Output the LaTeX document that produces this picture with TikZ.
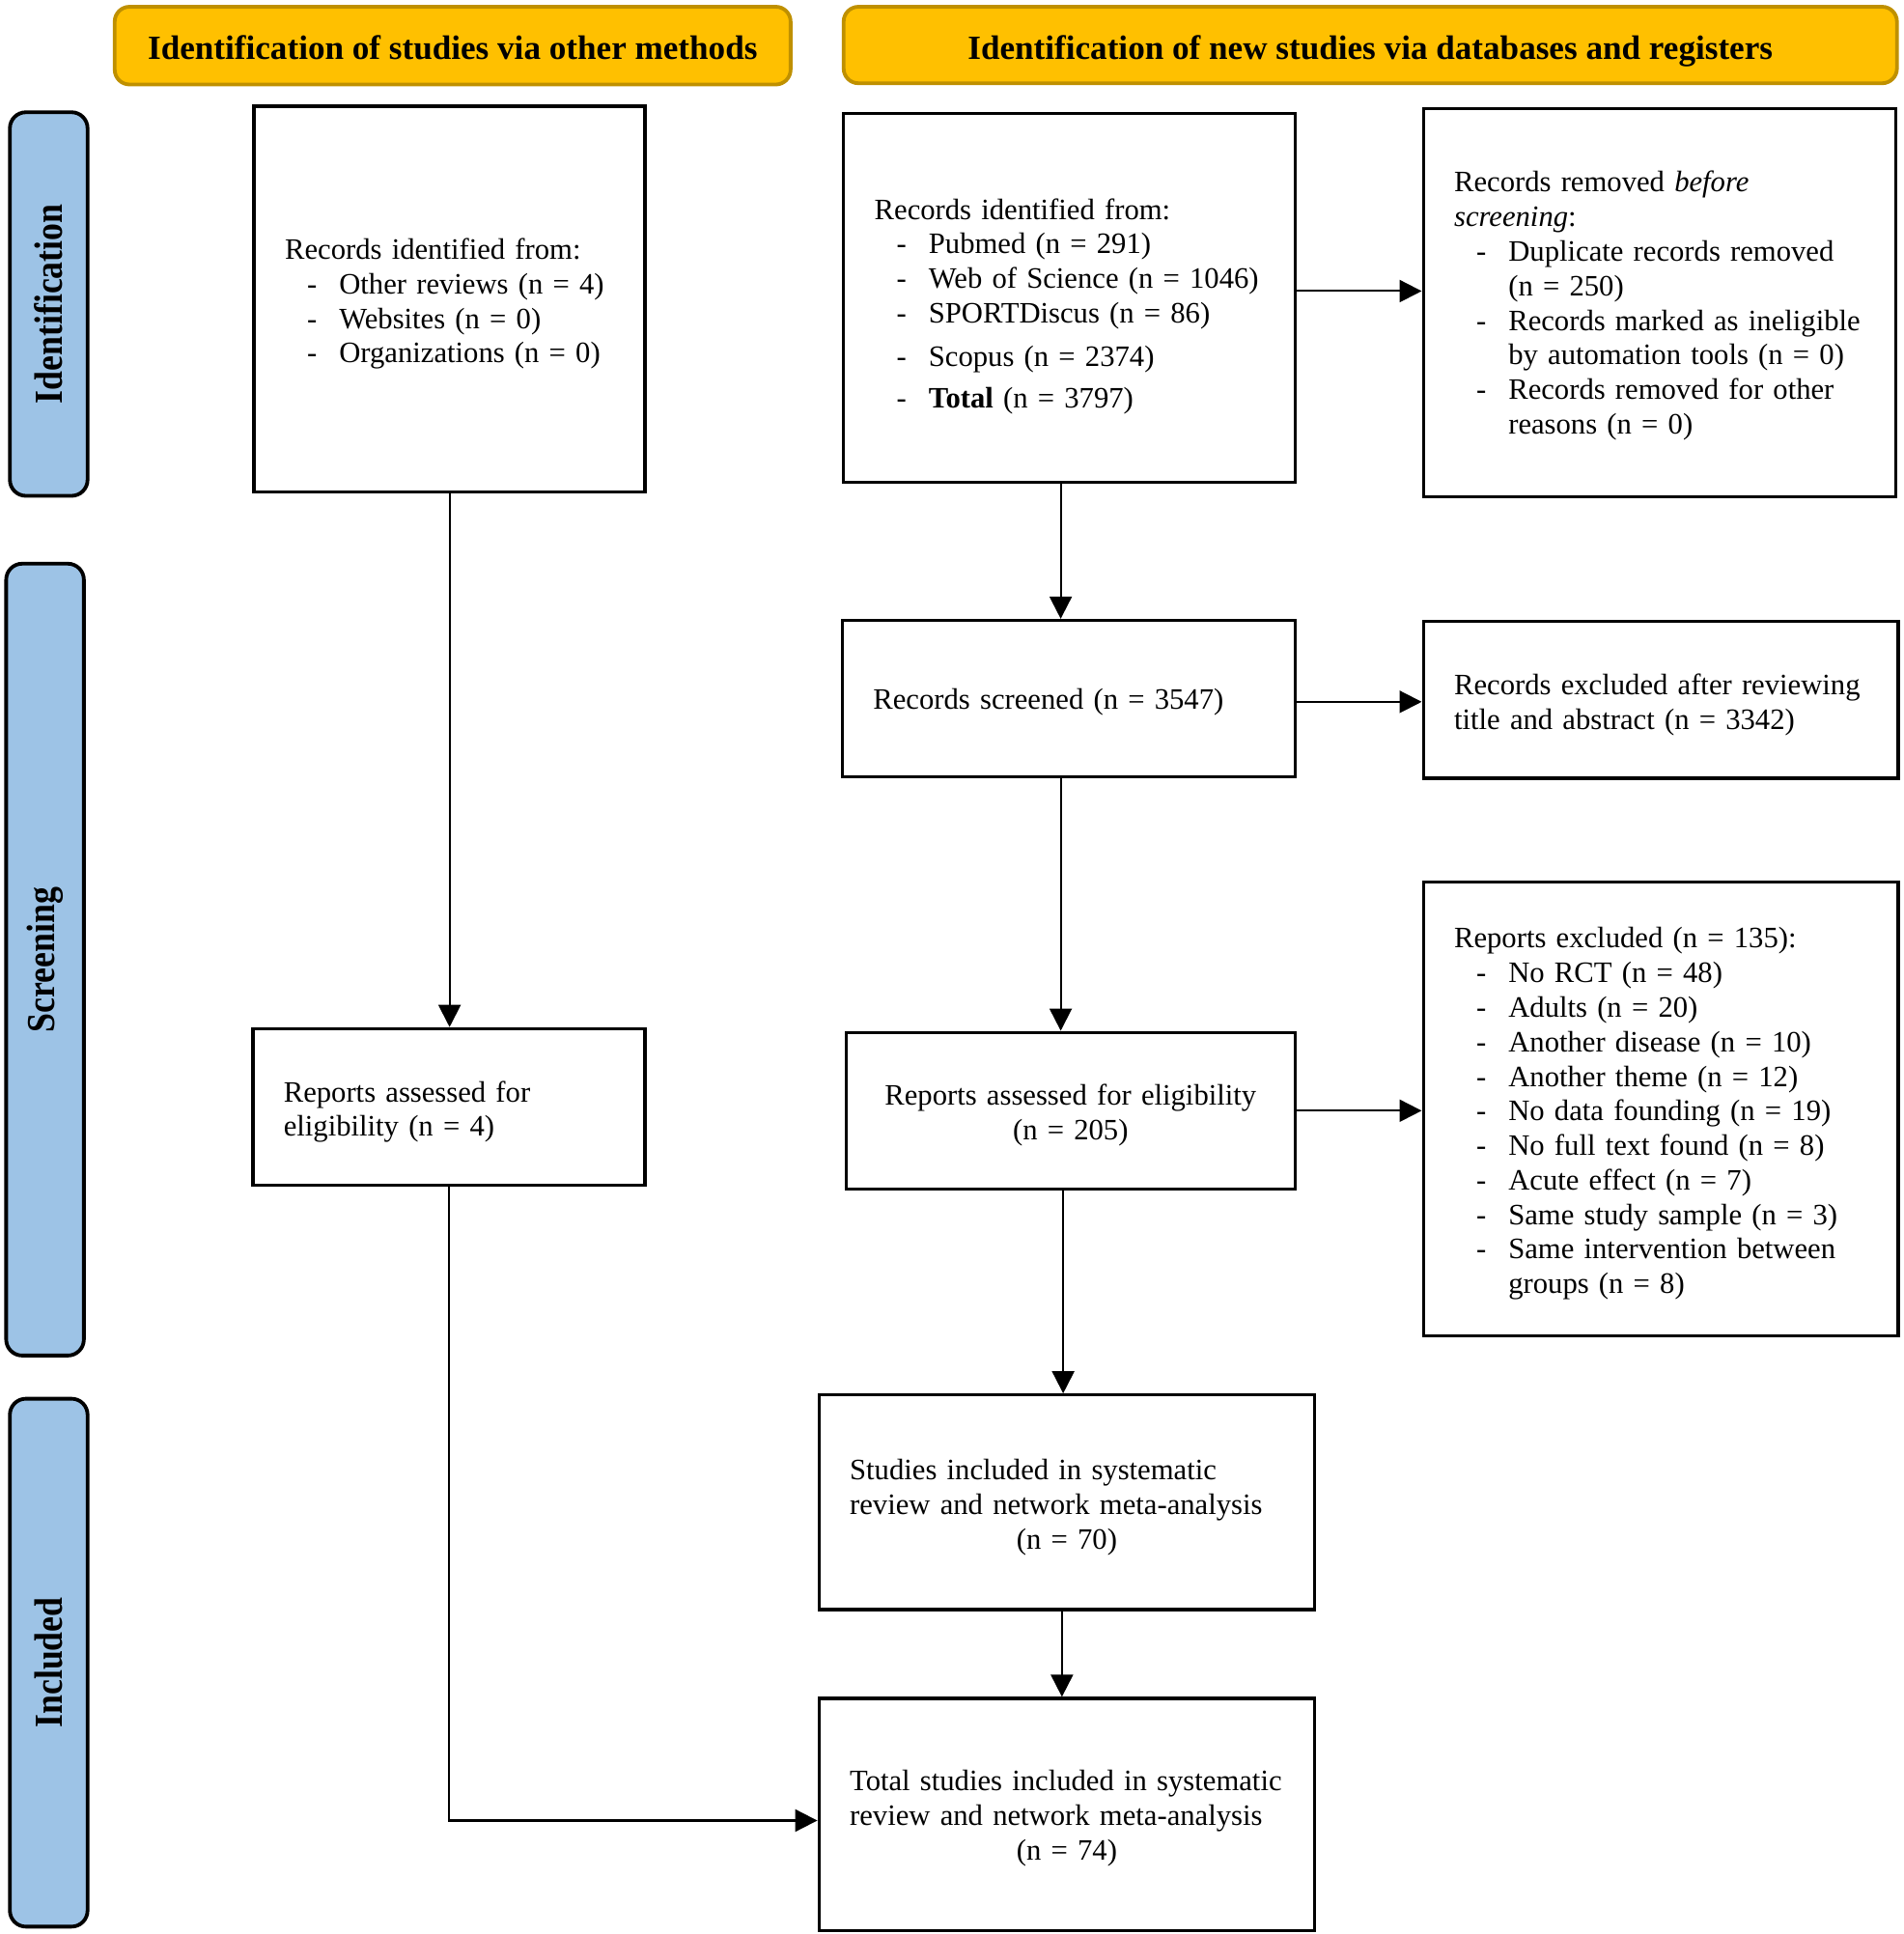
\documentclass[tikz,border=0pt]{standalone}
\usepackage{fontspec}
\setmainfont{Liberation Serif}
\usetikzlibrary{arrows.meta}
\definecolor{amber}{HTML}{FFC000}
\definecolor{amberedge}{HTML}{BF9000}
\definecolor{barblue}{HTML}{9DC3E6}
\newcommand{\itm}[1]{\makebox[22pt]{-}\mbox{#1}}
\newcommand{\cnt}[1]{\hspace*{22pt}\mbox{#1}}
\newcommand{\ctr}[1]{\makebox[\hsize]{#1}}
\newcommand{\tp}[1]{\rule{0pt}{\dimexpr 8.3pt+#1pt\relax}}
\newcommand{\sidetext}[1]{\scalebox{1}[1.15]{#1}}
\begin{document}
\begin{tikzpicture}[x=0.5pt,y=-0.5pt,
  box/.style={draw=black,line width=1.3pt,fill=white,inner xsep=12.5pt,inner ysep=2pt,align=left,
    font=\fontsize{12}{14}\selectfont},
  header/.style={draw=amberedge,fill=amber,line width=1.5pt,rounded corners=6pt,
    text height=12pt,text depth=0.5pt,font=\fontsize{13.75}{16}\selectfont\bfseries},
  sidebar/.style={draw=black,fill=barblue,line width=1.5pt,rounded corners=6.5pt,rotate=90,
    font=\fontsize{14}{16}\selectfont\bfseries},
  conn/.style={line width=0.8pt,-{Triangle[length=9pt,width=9pt]}}]
\useasboundingbox (0,0) rectangle (1543,1568);

% headers
\node[header,minimum width=274pt,minimum height=31.5pt] (hl) at (367,37) {Identification of studies via other methods};
\node[header,minimum width=427pt,minimum height=31pt] (hr) at (1111,36.5) {Identification of new studies via databases and registers};

% side bars
\node[sidebar,minimum width=155.5pt,minimum height=31.5pt] (sid) at (39.5,246.5) {\sidetext{Identification}};
\node[sidebar,minimum width=321pt,minimum height=31.5pt] (sscr) at (36.5,778) {\sidetext{Screening}};
\node[sidebar,minimum width=214pt,minimum height=31.5pt] (sinc) at (39.5,1348) {\sidetext{Included}};

% boxes
\node[box,minimum width=158.5pt,minimum height=156.5pt,text width=133.5pt] (A) at (364.5,242.5)
 {\tp{4}Records identified from:\\
  \itm{Other reviews (n = 4)}\\
  \itm{Websites (n = 0)}\\
  \itm{Organizations (n = 0)}};

\node[box,minimum width=183pt,minimum height=149.5pt,text width=158pt] (B) at (867,241.5)
 {\tp{7}Records identified from:\\
  \itm{Pubmed (n = 291)}\\
  \itm{Web of Science (n = 1046)}\\
  \itm{SPORTDiscus (n = 86)}\\[3.5pt]
  \itm{Scopus (n = 2374)}\\[3pt]
  \itm{\textbf{Total} (n = 3797)}};

\node[box,minimum width=191.5pt,minimum height=157.5pt,text width=166.5pt] (C) at (1345.5,245.5)
 {\tp{2.5}Records removed \textit{before}\\
  \textit{screening}:\\
  \itm{Duplicate records removed}\\
  \cnt{(n = 250)}\\
  \itm{Records marked as ineligible}\\
  \cnt{by automation tools (n = 0)}\\
  \itm{Records removed for other}\\
  \cnt{reasons (n = 0)}};

\node[box,minimum width=183.5pt,minimum height=63.5pt,text width=158.5pt] (D) at (866.5,566.5)
 {\tp{3}Records screened (n = 3547)};

\node[box,minimum width=192.5pt,minimum height=63.5pt,text width=167.5pt] (E) at (1346.5,567.5)
 {\tp{4}\mbox{Records excluded after reviewing}\\
  title and abstract (n = 3342)};

\node[box,align=center,minimum width=182pt,minimum height=63.5pt,text width=157pt] (F) at (868,900.5)
 {\tp{3.5}Reports assessed for eligibility\\
  (n = 205)};

\node[box,minimum width=192.5pt,minimum height=184pt,text width=167.5pt] (G) at (1346.5,899)
 {\tp{4}Reports excluded (n = 135):\\
  \itm{No RCT (n = 48)}\\
  \itm{Adults (n = 20)}\\
  \itm{Another disease (n = 10)}\\
  \itm{Another theme (n = 12)}\\
  \itm{No data founding (n = 19)}\\
  \itm{No full text found (n = 8)}\\
  \itm{Acute effect (n = 7)}\\
  \itm{Same study sample (n = 3)}\\
  \itm{Same intervention between}\\
  \cnt{groups (n = 8)}};

\node[box,minimum width=159pt,minimum height=63.5pt,text width=134pt] (H) at (364,897.5)
 {\tp{4}Reports assessed for\\
  eligibility (n = 4)};

\node[box,minimum width=201pt,minimum height=87pt,text width=176pt] (I) at (865,1218)
 {\tp{4}Studies included in systematic\\
  \mbox{review and network meta-analysis}\\
  \ctr{(n = 70)}};

\node[box,minimum width=201pt,minimum height=94pt,text width=176pt] (J) at (865,1471)
 {\tp{3}\mbox{Total studies included in systematic}\\
  \mbox{review and network meta-analysis}\\
  \ctr{(n = 74)}};

% connectors
\draw[conn] (A.south) -- (A.south |- H.north);
\draw[conn] ([yshift=2.75pt]B.east) -- ([yshift=2.75pt]B.east -| C.west);
\draw[conn] ([xshift=-3.5pt]B.south) -- ([xshift=-3.5pt]B.south |- D.north);
\draw[conn] ([yshift=-1.25pt]D.east) -- ([yshift=-1.25pt]D.east -| E.west);
\draw[conn] ([xshift=-3.25pt]D.south) -- ([xshift=-3.25pt]D.south |- F.north);
\draw[conn] (F.east) -- (F.east -| G.west);
\draw[conn] ([xshift=-3pt]F.south) -- ([xshift=-3pt]F.south |- I.north);
\draw[conn] ([xshift=-2pt]I.south) -- ([xshift=-2pt]I.south |- J.north);
\draw[conn] (H.south) |- ([yshift=-2.5pt]J.west);
\end{tikzpicture}
\end{document}
